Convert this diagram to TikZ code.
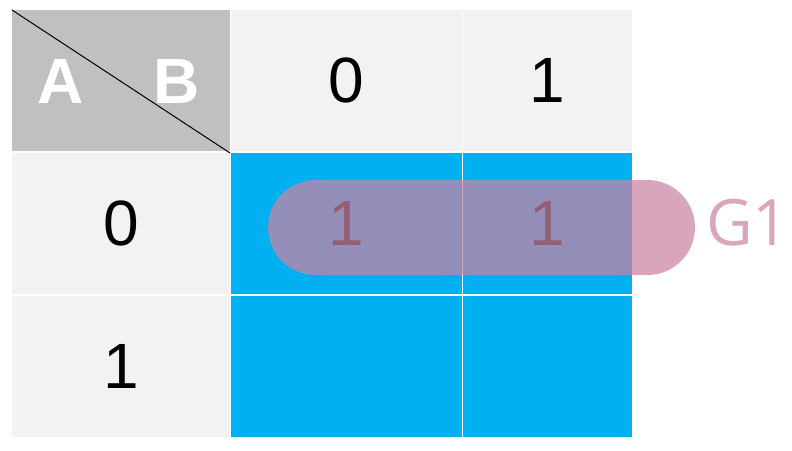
\documentclass[tikz,border=0pt]{standalone}
\usepackage{fontspec}
\setmainfont{Liberation Sans}
\newfontfamily\gfont{Open Sans}
\begin{document}
\begin{tikzpicture}[x=1pt,y=-1pt,
  cellbox/.style={rectangle,inner sep=0pt,outer sep=0pt,anchor=north west},
  hdr/.style={cellbox,fill=hgray},
  plain/.style={cellbox,fill=lgray},
  bluebox/.style={cellbox,fill=kblue},
  num/.style={font=\fontsize{64}{64}\selectfont,inner sep=0pt},
  ab/.style={font=\fontsize{64}{64}\selectfont\bfseries,text=white,inner sep=0pt},
  pill/.style={fill=gpink,fill opacity=0.725,rounded corners=47.5pt},
  glabel/.style={font=\gfont\fontsize{64}{64}\selectfont,text=glab,inner sep=0pt}
]
\definecolor{hgray}{HTML}{C0C0C0}
\definecolor{lgray}{HTML}{F2F2F2}
\definecolor{kblue}{HTML}{00B0F0}
\definecolor{gpink}{RGB}{203,131,163}
\definecolor{glab}{HTML}{D9A6BD}
\useasboundingbox (0,0) rectangle (792,450);
% header row
\node[hdr,minimum width=218pt,minimum height=141pt] (c00) at (12,10) {};
\node[plain,minimum width=231pt,minimum height=141pt] (c01) at (231,10) {};
\node[plain,minimum width=169pt,minimum height=141pt] (c02) at (463,10) {};
% row 0
\node[plain,minimum width=218pt,minimum height=141pt] (c10) at (12,153) {};
\node[bluebox,minimum width=231pt,minimum height=141pt] (c11) at (231,153) {};
\node[bluebox,minimum width=169pt,minimum height=141pt] (c12) at (463,153) {};
% row 1
\node[plain,minimum width=218pt,minimum height=141pt] (c20) at (12,296) {};
\node[bluebox,minimum width=231pt,minimum height=141pt] (c21) at (231,296) {};
\node[bluebox,minimum width=169pt,minimum height=141pt] (c22) at (463,296) {};
% diagonal
\coordinate (dend) at (230,153);
\draw[line width=1pt] (c00.north west) -- (dend);
% header texts
\node[ab] (la) at (60.5,81) {A};
\node[ab] (lb) at (177,81) {B};
\node[num] (h0) at (c01.center) {0};
\node[num] (h1) at (c02.center) {1};
\node[num] (r0) at (c10.center) {0};
\node[num] (r1) at (c20.center) {1};
\node[num] (v11) at (c11.center) {1};
\node[num] (v12) at (c12.center) {1};
% group
\fill[pill] (268,180) rectangle (695,275);
\node[glabel,anchor=west] (g1) at (706,223) {G1};
\end{tikzpicture}
\end{document}
